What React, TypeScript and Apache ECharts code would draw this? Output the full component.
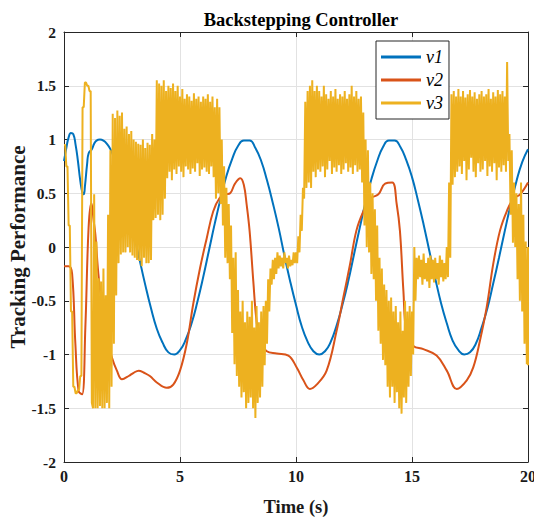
import React, { useEffect, useRef } from "react";
import * as echarts from "echarts";

// ---------- data ----------
const xTicks = [0, 5, 10, 15, 20];
const yTicks = [-2, -1.5, -1, -0.5, 0, 0.5, 1, 1.5, 2];
const legendNames = ["ν1", "ν2", "ν3"];

// ν1 : [time, value]
const nu1: number[][] = [
  [0, 0.8], [0.1, 0.92], [0.2, 1.02], [0.3, 1.06], [0.4, 1.05], [0.5, 0.95], [0.6, 0.8], [0.7, 0.62],
  [0.8, 0.5], [0.85, 0.49], [0.9, 0.56], [1.0, 0.78], [1.06, 0.87], [1.2, 0.91], [1.3, 0.96], [1.4, 0.99],
  [1.55, 1.0], [1.7, 0.99], [1.85, 0.96], [2.0, 0.91], [2.25, 0.78], [2.5, 0.6], [2.75, 0.38], [3.0, 0.14],
  [3.25, -0.11], [3.5, -0.35], [3.75, -0.57], [4.0, -0.76], [4.25, -0.89], [4.5, -0.98], [4.75, -1.0],
  [5.0, -0.96], [5.25, -0.86], [5.5, -0.71], [5.75, -0.51], [6.0, -0.28], [6.25, -0.03], [6.5, 0.22],
  [6.75, 0.45], [7.0, 0.66], [7.25, 0.82], [7.5, 0.94], [7.75, 0.99], [8.0, 0.99], [8.25, 0.92],
  [8.5, 0.8], [8.75, 0.62], [9.0, 0.41], [9.25, 0.18], [9.5, -0.08], [9.75, -0.32], [10.0, -0.54],
  [10.25, -0.74], [10.5, -0.88], [10.75, -0.97], [11.0, -1.0], [11.25, -0.97], [11.5, -0.88],
  [11.75, -0.73], [12.0, -0.54], [12.25, -0.32], [12.5, -0.07], [12.75, 0.18], [13.0, 0.42],
  [13.25, 0.63], [13.5, 0.8], [13.75, 0.93], [14.0, 0.99], [14.25, 0.99], [14.5, 0.93], [14.75, 0.81],
  [15.0, 0.65], [15.25, 0.44], [15.5, 0.21], [15.75, -0.04], [16.0, -0.29], [16.25, -0.52],
  [16.5, -0.71], [16.75, -0.87], [17.0, -0.96], [17.25, -1.0], [17.5, -0.98], [17.75, -0.9],
  [18.0, -0.75], [18.25, -0.57], [18.5, -0.34], [18.75, -0.1], [19.0, 0.15], [19.25, 0.39],
  [19.5, 0.61], [19.75, 0.79], [20.0, 0.91],
];

// ν2 : [time, value]
const nu2: number[][] = [
  [0, -0.18], [0.2, -0.18], [0.35, -0.25], [0.49, -0.9], [0.63, -1.34], [0.78, -1.37], [0.92, -0.75],
  [1.06, 0.18], [1.18, 0.41], [1.28, 0.24], [1.35, 0.12], [1.5, -0.29], [1.8, -0.8], [2.07, -1.03],
  [2.28, -1.15], [2.5, -1.23], [2.79, -1.2], [3.0, -1.17], [3.22, -1.15], [3.45, -1.17], [3.7, -1.2],
  [4.0, -1.26], [4.43, -1.31], [4.71, -1.28], [5.0, -1.15], [5.29, -0.9], [5.57, -0.53], [5.86, -0.2],
  [6.15, 0.08], [6.43, 0.33], [6.72, 0.46], [6.95, 0.49], [7.16, 0.5], [7.37, 0.59], [7.6, 0.64],
  [7.75, 0.58], [7.87, 0.4], [8.0, 0.15], [8.16, -0.32], [8.3, -0.69], [8.45, -0.86], [8.74, -0.97],
  [9.17, -0.99], [9.67, -1.01], [10.03, -1.12], [10.32, -1.24], [10.6, -1.32], [10.89, -1.28],
  [11.32, -1.15], [11.75, -0.78], [12.04, -0.47], [12.33, -0.16], [12.6, 0.15], [12.9, 0.33],
  [13.2, 0.45], [13.55, 0.49], [13.84, 0.59], [14.15, 0.6], [14.34, 0.4], [14.48, 0.15],
  [14.63, -0.41], [14.77, -0.81], [15.06, -0.92], [15.49, -0.95], [16.06, -1.01], [16.5, -1.15],
  [16.93, -1.32], [17.36, -1.24], [17.64, -1.12], [17.93, -0.87], [18.22, -0.56], [18.5, -0.16],
  [18.79, 0.15], [19.08, 0.33], [19.37, 0.45], [19.66, 0.49], [20.0, 0.6],
];

// ν3 : upper / lower edge of the chattering signal, every 0.1 s from 0 to 20
const nu3Step = 0.1;
const nu3Upper = [
  0.95, 0.75, 0.2, -0.6, -1.3, -1.36, -1.33, -1.2, 1.3, 1.53,
  1.5, 1.45, -1.45, 0.49, 0.05, -0.29, -0.32, -0.2, -0.45, 0.3,
  0.9, 1.24, 1.2, 1.27, 1.22, 1.25, 1.1, 1.12, 1.05, 1.08,
  1.0, 0.98, 0.96, 0.95, 1.0, 0.92, 0.97, 0.95, 1.05, 1.0,
  1.55, 1.52, 1.5, 1.55, 1.45, 1.5, 1.48, 1.52, 1.45, 1.5,
  1.4, 1.47, 1.38, 1.42, 1.4, 1.36, 1.43, 1.38, 1.4, 1.35,
  1.4, 1.38, 1.42, 1.35, 1.4, 1.3, 1.38, 1.3, 1.0, 0.75,
  0.55, 0.4, 0.2, -0.1, -0.05, -0.4, -0.6, -0.5, -0.7, -0.6,
  -0.65, -0.5, -0.75, -0.55, -0.7, -0.6, -0.55, -0.5, -0.3, -0.2,
  -0.12, -0.1, -0.05, -0.08, -0.1, -0.05, -0.1, -0.08, -0.12, -0.05,
  -0.05, 0.1, 0.3, 0.55, 1.35, 1.45, 1.5, 1.55, 1.45, 1.5,
  1.45, 1.4, 1.5, 1.42, 1.38, 1.45, 1.4, 1.47, 1.38, 1.42,
  1.4, 1.45, 1.38, 1.42, 1.5, 1.4, 1.45, 1.38, 1.4, 1.25,
  1.0, 0.9, 0.6, 0.5, 0.35, 0.2, -0.1, -0.2, -0.35, -0.4,
  -0.5, -0.47, -0.6, -0.55, -0.7, -0.6, -0.78, -0.5, -0.6, -0.55,
  -0.6, 0.0, -0.1, -0.08, -0.12, -0.06, -0.15, -0.1, -0.08, -0.12,
  -0.1, -0.15, -0.08, -0.12, -0.15, 0.0, 0.6, 1.42, 1.45, 1.4,
  1.47, 1.4, 1.45, 1.39, 1.42, 1.46, 1.4, 1.44, 1.38, 1.42,
  1.45, 1.4, 1.42, 1.47, 1.38, 1.44, 1.4, 1.46, 1.42, 1.45,
  1.4, 1.72, 1.05, 0.9, 0.6, 0.5, 0.4, 0.6, 0.3, 0.05,
  0.0,
];
const nu3Lower = [
  0.95, 0.75, 0.2, -0.6, -1.3, -1.36, -1.33, -1.2, 1.3, 1.53,
  1.5, 1.45, -1.5, -1.5, -1.5, -1.48, -1.5, -1.5, -1.45, -1.5,
  -1.3, -0.9, -0.45, -0.15, -0.07, -0.05, -0.05, 0.0, -0.05, -0.08,
  -0.1, -0.12, -0.13, -0.18, -0.1, -0.15, -0.15, -0.12, 0.25, 0.27,
  0.3, 0.25, 0.3, 0.45, 0.64, 0.7, 0.62, 0.72, 0.68, 0.75,
  0.7, 0.65, 0.75, 0.72, 0.68, 0.73, 0.7, 0.78, 0.66, 0.72,
  0.74, 0.7, 0.68, 0.75, 0.65, 0.45, 0.5, 0.4, 0.2, -0.1,
  -0.15, -0.3, -0.8, -1.09, -1.2, -1.3, -1.4, -1.35, -1.5, -1.45,
  -1.4, -1.5, -1.59, -1.45, -1.4, -1.3, -1.1, -0.9, -0.6, -0.35,
  -0.3, -0.25, -0.2, -0.18, -0.2, -0.15, -0.2, -0.18, -0.17, -0.15,
  -0.15, -0.05, 0.15, 0.45, 0.55, 0.6, 0.55, 0.7, 0.65, 0.72,
  0.7, 0.75, 0.65, 0.72, 0.8, 0.68, 0.74, 0.7, 0.76, 0.68,
  0.72, 0.78, 0.7, 0.74, 0.68, 0.76, 0.7, 0.72, 0.6, 0.2,
  0.0, -0.05, -0.25, -0.3, -0.5, -0.78, -0.9, -1.05, -1.1, -1.3,
  -1.4, -1.3, -1.45, -1.35, -1.5, -1.55, -1.4, -1.45, -1.3, -1.2,
  -1.0, -0.5, -0.3, -0.28, -0.35, -0.3, -0.32, -0.38, -0.3, -0.33,
  -0.3, -0.35, -0.28, -0.32, -0.3, -0.28, -0.1, 0.58, 0.65, 0.7,
  0.75, 0.68, 0.8, 0.62, 0.72, 0.83, 0.7, 0.65, 0.78, 0.7,
  0.72, 0.8, 0.66, 0.75, 0.7, 0.78, 0.62, 0.74, 0.7, 0.76,
  0.7, 0.8, 0.3, 0.04, 0.0, -0.3, -0.5, -0.6, -0.9, -1.09,
  -1.1,
];

// ---------- build series data ----------
const nu3: number[][] = [];
nu3Upper.forEach((u, i) => {
  const t = +(i * nu3Step).toFixed(2);
  nu3.push([t, u]);
  const last = i === nu3Upper.length - 1;
  nu3.push([last ? t : +(t + nu3Step / 2).toFixed(3), nu3Lower[i]]);
});

const FONT = "Liberation Serif, Times New Roman, serif";
const AXIS = "#262626";
const GRID = "#e2e2e2";
const COLORS = ["#0072BD", "#D95319", "#EDB120"];

const yMin = yTicks[0];
const yMax = yTicks[yTicks.length - 1];
const yInt = yTicks[1] - yTicks[0];
const xMin = xTicks[0];
const xMax = xTicks[xTicks.length - 1];
const xInt = xTicks[1] - xTicks[0];

const tickRich = (size: number) => ({
  t: { fontFamily: FONT, fontWeight: "bold", fontSize: size, color: "#1a1a1a" },
});

const option: any = {
  animation: false,
  backgroundColor: "#ffffff",
  textStyle: { fontFamily: FONT },
  title: {
    text: "Backstepping Controller",
    left: 296,
    top: 5,
    textAlign: "center",
    textStyle: { fontFamily: FONT, fontWeight: "bold", fontSize: 18.5, color: "#000" },
  },
  grid: { left: 64, right: 6, top: 32, bottom: 59, containLabel: false, outerBoundsMode: "none" },
  legend: {
    data: legendNames,
    orient: "vertical",
    left: 376,
    top: 41,
    padding: [7, 6, 7, 5],
    itemGap: 5,
    itemWidth: 40,
    itemHeight: 3,
    icon: "rect",
    backgroundColor: "#ffffff",
    borderColor: AXIS,
    borderWidth: 1,
    borderRadius: 0,
    formatter: (name: string) => `{n|${name}}`,
    textStyle: {
      fontFamily: FONT,
      fontStyle: "italic",
      fontSize: 18,
      color: "#000",
      rich: { n: { fontFamily: FONT, fontStyle: "italic", fontSize: 18, color: "#000" } },
    },
  },
  xAxis: [
    {
      type: "value",
      min: xMin,
      max: xMax,
      interval: xInt,
      position: "bottom",
      axisLine: { show: true, onZero: false, lineStyle: { color: AXIS, width: 1 } },
      axisTick: { show: true, inside: true, length: 5, lineStyle: { color: AXIS } },
      axisLabel: {
        fontFamily: FONT,
        fontWeight: "bold",
        fontSize: 16,
        color: "#1a1a1a",
        margin: 6,
        formatter: (v: number) => `{t|${v}}`,
        rich: tickRich(16),
      },
      splitLine: { show: true, lineStyle: { color: GRID, width: 1 } },
      name: "Time (s)",
      nameLocation: "middle",
      nameGap: 35,
      nameMoveOverlap: false,
      nameTextStyle: { fontFamily: FONT, fontWeight: "bold", fontSize: 18.5, color: "#1a1a1a" },
    },
    {
      type: "value",
      min: xMin,
      max: xMax,
      interval: xInt,
      position: "top",
      axisLine: { show: true, onZero: false, lineStyle: { color: AXIS, width: 1 } },
      axisTick: { show: true, inside: true, length: 5, lineStyle: { color: AXIS } },
      axisLabel: { show: false },
      splitLine: { show: false },
    },
  ],
  yAxis: [
    {
      type: "value",
      min: yMin,
      max: yMax,
      interval: yInt,
      position: "left",
      axisLine: { show: true, onZero: false, lineStyle: { color: AXIS, width: 1 } },
      axisTick: { show: true, inside: true, length: 5, lineStyle: { color: AXIS } },
      axisLabel: {
        fontFamily: FONT,
        fontWeight: "bold",
        fontSize: 15.5,
        color: "#1a1a1a",
        margin: 8,
        formatter: (v: number) => `{t|${v}}`,
        rich: tickRich(15.5),
      },
      splitLine: { show: true, lineStyle: { color: GRID, width: 1 } },
      name: "Tracking Performance",
      nameLocation: "middle",
      nameGap: 36,
      nameRotate: 90,
      nameMoveOverlap: false,
      nameTextStyle: { fontFamily: FONT, fontWeight: "bold", fontSize: 21, color: "#1a1a1a" },
    },
    {
      type: "value",
      min: yMin,
      max: yMax,
      interval: yInt,
      position: "right",
      axisLine: { show: true, onZero: false, lineStyle: { color: AXIS, width: 1 } },
      axisTick: { show: true, inside: true, length: 5, lineStyle: { color: AXIS } },
      axisLabel: { show: false },
      splitLine: { show: false },
    },
  ],
  series: [
    {
      name: legendNames[0],
      type: "line",
      data: nu1,
      smooth: 0.5,
      showSymbol: false,
      symbol: "none",
      lineStyle: { color: COLORS[0], width: 2 },
      itemStyle: { color: COLORS[0] },
      z: 2,
    },
    {
      name: legendNames[1],
      type: "line",
      data: nu2,
      smooth: 0.4,
      showSymbol: false,
      symbol: "none",
      lineStyle: { color: COLORS[1], width: 2 },
      itemStyle: { color: COLORS[1] },
      z: 3,
    },
    {
      name: legendNames[2],
      type: "line",
      data: nu3,
      showSymbol: false,
      symbol: "none",
      lineStyle: { color: COLORS[2], width: 2 },
      itemStyle: { color: COLORS[2] },
      z: 4,
    },
  ],
};

export default function App() {
  const ref = useRef<HTMLDivElement>(null);
  useEffect(() => {
    if (!ref.current) return;
    const chart = echarts.init(ref.current, undefined, { renderer: "svg" });
    chart.setOption(option);
    return () => chart.dispose();
  }, []);
  return (
    <div
      ref={ref}
      style={{ position: "absolute", left: 0, top: 0, width: 534, height: 521, background: "#fff" }}
    />
  );
}
